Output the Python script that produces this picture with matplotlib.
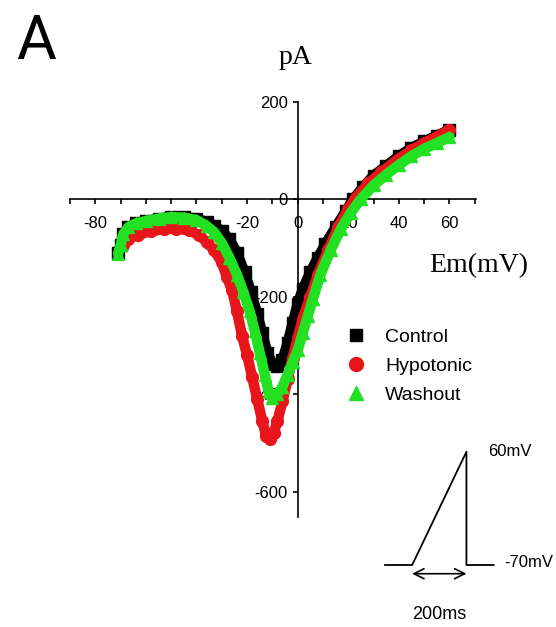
import matplotlib
matplotlib.use("Agg")
import matplotlib.pyplot as plt
from matplotlib.lines import Line2D

plt.rcParams['axes.unicode_minus'] = False
plt.rcParams['font.family'] = ['Liberation Sans', 'DejaVu Sans']

# ---- data (membrane potential mV, current pA) ----
control_mv = [-71, -70, -69, -67, -64, -60, -55, -50, -45, -40, -36, -33, -30, -27, -24,
              -21, -18.5, -16, -14, -12, -10, -8, -6, -4, -2, 0, 2, 5, 8, 11, 15, 19, 22,
              26, 30, 35, 40, 45, 50, 55, 60]
control_pa = [-110, -95, -72, -58, -50, -45, -40, -37, -37, -40, -47, -55, -65, -82, -110,
              -150, -190, -235, -275, -315, -338, -342, -330, -295, -255, -215, -185, -150,
              -120, -92, -58, -25, 0, 25, 48, 68, 88, 105, 118, 130, 142]

hypo_mv = [-69, -67, -63, -58, -53, -48, -43, -39, -36, -33, -30, -28, -26, -24, -22, -20,
           -18, -16, -14, -12.5, -11, -9.5, -8, -6, -4, -2, 0, 2, 5, 8, 12, 16, 20, 23, 28,
           33, 40, 45, 50, 55, 60]
hypo_pa = [-95, -82, -73, -66, -62, -61, -64, -74, -88, -105, -130, -160, -186, -230, -280,
           -320, -365, -410, -455, -485, -493, -480, -455, -415, -370, -325, -285, -245,
           -200, -155, -105, -58, -20, 3, 32, 55, 83, 100, 115, 128, 142]

wash_mv = [-71, -70, -69, -67, -64, -60, -55, -50, -45, -40, -36, -33, -30, -27, -24, -21.5,
           -19, -17, -15, -13, -11.5, -10, -8, -6, -4, -2, 0, 2, 4, 6, 9, 13, 17, 21, 25, 30,
           35, 40, 45, 50, 55, 60]
wash_pa = [-112, -95, -72, -58, -50, -45, -40, -37, -38, -43, -55, -68, -90, -120, -155, -190,
           -230, -270, -315, -360, -395, -408, -400, -385, -360, -335, -310, -275, -240, -205,
           -155, -105, -62, -28, 0, 28, 50, 70, 88, 103, 115, 127]

series_labels = ['Control', 'Hypotonic', 'Washout']

x_ticks = list(range(-90, 71, 10))
x_ticklabels = ['' if v % 20 else str(v) for v in x_ticks]
y_ticks = [200, 0, -200, -400, -600]
y_ticklabels = [str(v) for v in y_ticks]

# voltage-ramp protocol (inset)
proto_t = [-100, 0, 200, 200, 300]
proto_v = [-70, -70, 60, -70, -70]

# ---- figure ----
fig = plt.figure(figsize=(5.56, 6.27), dpi=100)
ax = fig.add_axes([70 / 556, 1 - 517 / 627, 406 / 556, 415.5 / 627])

ax.set_xlim(-90, 70.5)
ax.set_ylim(-652, 200)
for s in ['top', 'right']:
    ax.spines[s].set_visible(False)
ax.spines['left'].set_position(('data', 0))
ax.spines['bottom'].set_position(('data', 0))
for s in ['left', 'bottom']:
    ax.spines[s].set_linewidth(1.2)

ax.set_xticks(x_ticks)
ax.set_xticklabels(x_ticklabels)
ax.set_yticks(y_ticks)
ax.set_yticklabels(y_ticklabels)
ax.tick_params(axis='x', direction='out', length=3.6, width=1.2, pad=8.5, labelsize=12)
ax.tick_params(axis='y', direction='out', length=3.6, width=1.2, pad=3.5, labelsize=12)

colors = ['#000000', '#e8151b', '#22e022']
markers = ['s', 'o', '^']
data = [(control_mv, control_pa), (hypo_mv, hypo_pa), (wash_mv, wash_pa)]
for (xv, yv), c, m in zip(data, colors, markers):
    ax.plot(xv, yv, color=c, lw=7.5, solid_joinstyle='round', solid_capstyle='round',
            marker=m, ms=8.5, mec=c, mfc=c, zorder=3, clip_on=False)

handles = [Line2D([], [], color=c, marker=m, ls='none', ms=ms)
           for c, m, ms in zip(colors, markers, [8, 10, 10])]
fig.legend(handles, series_labels, loc='upper left',
           bbox_to_anchor=(346 / 556, 1 - 328 / 627), bbox_transform=fig.transFigure,
           frameon=False, fontsize=14, handlelength=1.0, handletextpad=1.0,
           labelspacing=0.6, borderpad=0, borderaxespad=0)

fig.text(36 / 556, 1 - 59 / 627, 'A', fontsize=44, ha='center', va='baseline',
         family=['Roboto', 'Liberation Sans'])
fig.text(296 / 556, 1 - 64 / 627, 'pA', fontsize=20, ha='center', va='baseline',
         family='Liberation Serif')
fig.text(479 / 556, 1 - 272 / 627, 'Em(mV)', fontsize=20, ha='center', va='baseline',
         family='Liberation Serif')

# ---- protocol inset ----
ins = fig.add_axes([385 / 556, 1 - 565 / 627, 108.6 / 556, 113.3 / 627])
ins.set_xlim(-100, 300)
ins.set_ylim(-70, 60)
ins.axis('off')
ins.plot(proto_t, proto_v, color='k', lw=1.3, clip_on=False)
ins.annotate('', xy=(0, -80), xytext=(200, -80), annotation_clip=False,
             arrowprops=dict(arrowstyle='<->', lw=1.2, color='k', shrinkA=0, shrinkB=0,
                             mutation_scale=18))
ins.text(280, 60, '60mV', fontsize=12, ha='left', va='center', clip_on=False)
ins.text(340, -67, '-70mV', fontsize=12, ha='left', va='center', clip_on=False)
ins.text(100, -127, '200ms', fontsize=13, ha='center', va='center', clip_on=False)

fig.savefig('out.png', dpi=100)
